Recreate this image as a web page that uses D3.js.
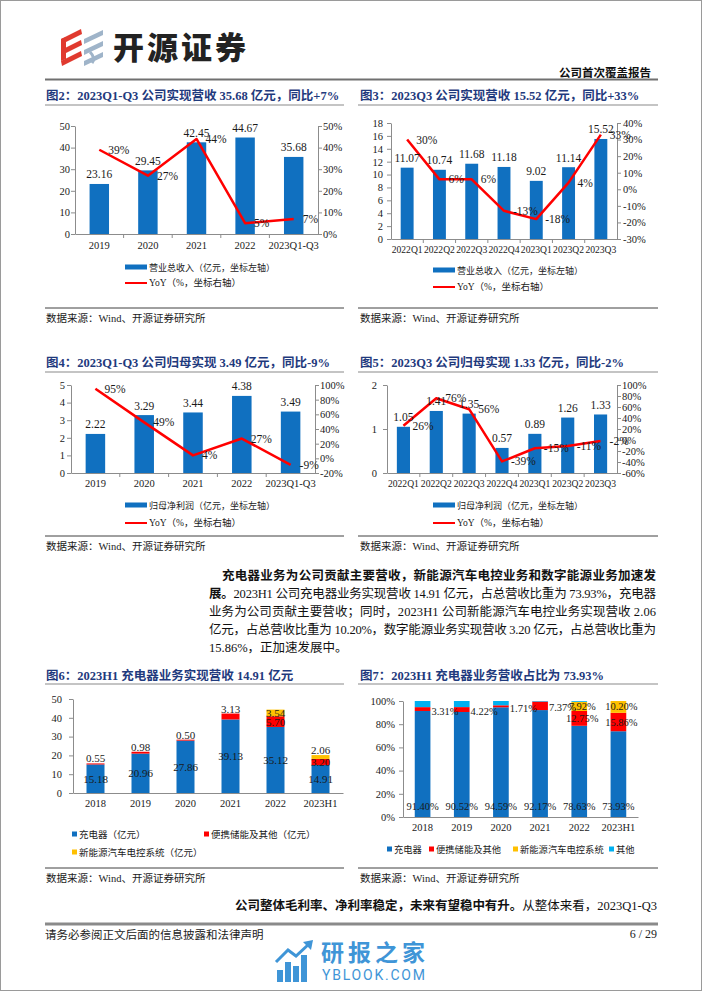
<!DOCTYPE html>
<html><head><meta charset="utf-8">
<script src="https://cdn.jsdelivr.net/npm/d3@7"></script>
<style>
body{margin:0;background:#fff}
svg{display:block}
</style></head><body>
<svg id="page" width="702" height="991"></svg>
<script>
// ---------------- DATA ----------------
const c2Cats = ["2019","2020","2021","2022","2023Q1-Q3"];
const c2Rev = [23.16,29.45,42.45,44.67,35.68];
const c2Yoy = [39,27,44,5,7];
const c2LTicks = [0,10,20,30,40,50];
const c2RTicks = [0,10,20,30,40,50];

const c3Cats = ["2022Q1","2022Q2","2022Q3","2022Q4","2023Q1","2023Q2","2023Q3"];
const c3Rev = [11.07,10.74,11.68,11.18,9.02,11.14,15.52];
const c3Yoy = [30,6,6,-13,-18,4,33];
const c3LTicks = [0,2,4,6,8,10,12,14,16,18];
const c3RTicks = [-30,-20,-10,0,10,20,30,40];

const c4Cats = ["2019","2020","2021","2022","2023Q1-Q3"];
const c4Np = [2.22,3.29,3.44,4.38,3.49];
const c4Yoy = [95,49,4,27,-9];
const c4LTicks = [0,1,2,3,4,5];
const c4RTicks = [-20,0,20,40,60,80,100];

const c5Cats = ["2022Q1","2022Q2","2022Q3","2022Q4","2023Q1","2023Q2","2023Q3"];
const c5Np = [1.05,1.41,1.35,0.57,0.89,1.26,1.33];
const c5Yoy = [26,76,56,-39,-15,-11,-2];
const c5LTicks = [0,1,2];
const c5RTicks = [-60,-40,-20,0,20,40,60,80,100];

const c6Cats = ["2018","2019","2020","2021","2022","2023H1"];
const c6Charger = [15.18,20.96,27.86,39.13,35.12,14.91];
const c6Portable = [0.55,0.98,0.50,3.13,5.70,3.20];
const c6NEV = [0,0,0,0,3.54,2.06];
const c6Ticks = [0,10,20,30,40,50];

const c7Cats = ["2018","2019","2020","2021","2022","2023H1"];
const c7Charger = [91.40,90.52,94.59,92.17,78.63,73.93];
const c7Portable = [3.31,4.22,1.71,7.37,12.75,15.86];
const c7NEV = [0,0,0,0,7.92,10.20];
const c7Other = [5.29,5.26,3.70,0.46,0.70,0.01];
const c7Ticks = [0,20,40,60,80,100];

// ---------------- STYLE ----------------
const BLUE="#1070C0", RED="#FF0000", YELLOW="#FFC000", LBLUE="#00B0F0";
const NAVY="#1F3A7D", AX="#8c8c8c", INK="#1a1a1a";
const SERIF='"Liberation Serif","Noto Sans CJK SC",serif';
const CJK='"Noto Sans CJK SC","Liberation Serif",sans-serif';
const svg=d3.select("#page");

function T(g,x,y,s,o={}){
  const t=g.append("text").attr("x",x).attr("y",y).attr("dominant-baseline","central")
    .style("font-family",o.ff||SERIF).style("font-size",(o.fs||11)+"px")
    .attr("fill",o.fill||INK).attr("text-anchor",o.anchor||"start").text(s);
  if(o.bold) t.style("font-weight","bold");
  return t;
}
function L(g,x1,y1,x2,y2,c,w){
  g.append("line").attr("x1",x1).attr("y1",y1).attr("x2",x2).attr("y2",y2).attr("stroke",c).attr("stroke-width",w);
}
function styleAxis(sel,fs){
  sel.attr("font-family",SERIF).attr("font-size",fs);
  sel.select(".domain").attr("stroke",AX);
  sel.selectAll(".tick line").attr("stroke",AX);
  sel.selectAll(".tick text").attr("fill",INK);
}

// page border
svg.append("rect").attr("x",0.5).attr("y",0.5).attr("width",701).attr("height",990).attr("fill","none").attr("stroke","#9a9a9a");

// ---------------- HEADER ----------------
(function(){
  const g=svg.append("g");
  const reds=[29,40,51];
  reds.forEach(y=>g.append("polygon").attr("points",`61,${y+10} 81,${y} 82,${y+5} 62,${y+15}`).attr("fill","#E03A2F"));
  g.append("polygon").attr("points","61,39 66,37 66,59 61,61").attr("fill","#E03A2F");
  const grays=[30,41,52];
  grays.forEach(y=>g.append("polygon").attr("points",`84,${y+9} 103,${y} 103,${y+5} 84,${y+14}`).attr("fill","#9FB4C9"));
  g.append("path").attr("d","M90,52 Q96,58 92,63").attr("stroke","#9FB4C9").attr("stroke-width",3).attr("fill","none");
  T(g,113,45,"开源证券",{ff:CJK,fs:31,bold:true,fill:"#222"}).style("font-weight",900).attr("textLength",133);
  T(g,651,72,"公司首次覆盖报告",{ff:CJK,fs:11.5,bold:true,anchor:"end",fill:"#111"});
  L(g,45,79.5,658,79.5,"#707070",2);
})();

// ---------------- TITLES / SOURCES ----------------
function title(x,y,s,lx1,lx2,ly){
  T(svg,x,y,s,{fs:12.5,bold:true,fill:NAVY});
  L(svg,lx1,ly,lx2,ly,"#8a8a8a",1.2);
}
title(46,96,"图2：2023Q1-Q3 公司实现营收 35.68 亿元，同比+7%",45,344,105);
title(360,96,"图3：2023Q3 公司实现营收 15.52 亿元，同比+33%",358,658,105);
title(46,363,"图4：2023Q1-Q3 公司归母实现 3.49 亿元，同比-9%",45,344,372);
title(360,363,"图5：2023Q3 公司归母实现 1.33 亿元，同比-2%",358,658,372);
title(46,676,"图6：2023H1 充电器业务实现营收 14.91 亿元",45,344,684);
title(360,676,"图7：2023H1 充电器业务营收占比为 73.93%",358,658,684);

function source(y){
  L(svg,45,y,344,y,"#404040",1);
  L(svg,358,y,658,y,"#404040",1);
  T(svg,46,y+10,"数据来源：Wind、开源证券研究所",{fs:10.5});
  T(svg,360,y+10,"数据来源：Wind、开源证券研究所",{fs:10.5});
}
source(308); source(536); source(868);

// ---------------- COMBO CHARTS ----------------
function combo(o){
  const g=svg.append("g");
  const x=d3.scaleBand().domain(o.cats).range([o.xl,o.xr]).paddingInner(0.6).paddingOuter(0.3);
  const yL=d3.scaleLinear().domain(o.lDom).range([o.yb,o.yt]);
  const yR=d3.scaleLinear().domain(o.rDom).range([o.yb,o.yt]);
  const cx=c=>x(c)+x.bandwidth()/2;
  const la=g.append("g").attr("transform",`translate(${o.xl},0)`)
    .call(d3.axisLeft(yL).tickValues(o.lTicks).tickSize(4).tickSizeOuter(0).tickPadding(o.lPad).tickFormat(d=>String(d)));
  styleAxis(la,o.tfs);
  const ra=g.append("g").attr("transform",`translate(${o.xr},0)`)
    .call(d3.axisRight(yR).tickValues(o.rTicks).tickSize(4).tickSizeOuter(0).tickPadding(o.rPad).tickFormat(d=>d+"%"));
  styleAxis(ra,o.tfs);
  const xa=g.append("g").attr("transform",`translate(0,${o.yb})`)
    .call(d3.axisBottom(x).tickSize(0).tickSizeOuter(0));
  styleAxis(xa,o.xfs);
  xa.selectAll(".tick text").attr("y",o.xLabY-o.yb).attr("dy","0.32em");
  // category boundary ticks
  g.selectAll(".bt").data(o.cats.slice(1)).join("line")
    .attr("x1",c=>cx(c)-x.step()/2).attr("x2",c=>cx(c)-x.step()/2)
    .attr("y1",o.yb).attr("y2",o.yb+4).attr("stroke",AX);
  // bars
  g.selectAll(".bar").data(o.cats).join("rect")
    .attr("x",c=>x(c)).attr("width",x.bandwidth())
    .attr("y",(c,i)=>yL(o.bars[i])).attr("height",(c,i)=>o.yb-yL(o.bars[i])).attr("fill",BLUE);
  // line
  const line=d3.line().x((d,i)=>cx(o.cats[i])).y(d=>yR(d));
  g.append("path").attr("d",line(o.yoy)).attr("fill","none").attr("stroke",RED).attr("stroke-width",2.5).attr("stroke-linejoin","round");
  // labels
  o.cats.forEach((c,i)=>{
    T(g,cx(c),yL(o.bars[i])-9.5,o.bars[i].toFixed(2),{fs:o.vfs,anchor:"middle"});
  });
  o.cats.forEach((c,i)=>{
    T(g,cx(c)+9,yR(o.yoy[i]),o.yoy[i]+"%",{fs:o.vfs});
  });
  // legend
  g.append("rect").attr("x",o.lgx).attr("y",o.lgy1-2.5).attr("width",22).attr("height",5).attr("fill",BLUE);
  T(g,o.lgx+24,o.lgy1,o.barName,{ff:CJK,fs:9});
  L(g,o.lgx,o.lgy2,o.lgx+22,o.lgy2,RED,2);
  T(g,o.lgx+24,o.lgy2,"YoY（%，坐标右轴）",{fs:9.5});
}

combo({cats:c2Cats,bars:c2Rev,yoy:c2Yoy,xl:75,xr:318,yt:126,yb:234,lDom:[0,50],rDom:[0,50],
  lTicks:c2LTicks,rTicks:c2RTicks,lPad:1,rPad:1,xLabY:246,tfs:10.5,xfs:10.5,vfs:11.5,
  lgx:125,lgy1:267,lgy2:283,barName:"营业总收入（亿元，坐标左轴）"});
combo({cats:c3Cats,bars:c3Rev,yoy:c3Yoy,xl:391,xr:617,yt:123,yb:239,lDom:[0,18],rDom:[-30,40],
  lTicks:c3LTicks,rTicks:c3RTicks,lPad:4,rPad:2,xLabY:250,tfs:10.5,xfs:9.6,vfs:11.5,
  lgx:433,lgy1:270,lgy2:287,barName:"营业总收入（亿元，坐标左轴）"});
combo({cats:c4Cats,bars:c4Np,yoy:c4Yoy,xl:71,xr:315,yt:385,yb:473,lDom:[0,5],rDom:[-20,100],
  lTicks:c4LTicks,rTicks:c4RTicks,lPad:2,rPad:1,xLabY:484,tfs:10.5,xfs:10.5,vfs:11.5,
  lgx:125,lgy1:505,lgy2:523,barName:"归母净利润（亿元，坐标左轴）"});
combo({cats:c5Cats,bars:c5Np,yoy:c5Yoy,xl:387,xr:617,yt:385,yb:473,lDom:[0,2],rDom:[-60,100],
  lTicks:c5LTicks,rTicks:c5RTicks,lPad:6,rPad:1,xLabY:484,tfs:10.5,xfs:9.6,vfs:11.5,
  lgx:433,lgy1:505,lgy2:523,barName:"归母净利润（亿元，坐标左轴）"});

// ---------------- PARAGRAPH ----------------
function pline(x,y,x2,parts,justify,fs){
  const t=svg.append("text").attr("x",x).attr("y",y).attr("dominant-baseline","central")
    .style("font-family",SERIF).style("font-size",(fs||12.5)+"px").attr("fill","#111");
  parts.forEach(p=>t.append("tspan").text(p[0]).style("font-weight",p[1]?"bold":"normal"));
  if(justify){
    const w=t.node().getComputedTextLength();
    const n=parts.map(p=>p[0]).join("").length;
    t.style("letter-spacing",((x2-x-w)/(n-1))+"px");
  }
}
pline(222,576,656,[["充电器业务为公司贡献主要营收，新能源汽车电控业务和数字能源业务加速发",1]],true);
pline(209,594,656,[["展。",1],["2023H1 公司充电器业务实现营收 14.91 亿元，占总营收比重为 73.93%，充电器",0]],true);
pline(209,612,656,[["业务为公司贡献主要营收；同时，2023H1 公司新能源汽车电控业务实现营收 2.06",0]],true);
pline(209,630,656,[["亿元，占总营收比重为 10.20%，数字能源业务实现营收 3.20 亿元，占总营收比重为",0]],true);
pline(209,648,656,[["15.86%，正加速发展中。",0]],false);
pline(235,906,657,[["公司整体毛利率、净利率稳定，未来有望稳中有升。",1],["从整体来看，2023Q1-Q3",0]],true);

// ---------------- CHART 6 (stacked values) ----------------
(function(){
  const g=svg.append("g");
  const xl=73,xr=343,yt=699,yb=793;
  const x=d3.scaleBand().domain(c6Cats).range([xl,xr]).paddingInner(0.6).paddingOuter(0.3);
  const y=d3.scaleLinear().domain([0,50]).range([yb,yt]);
  const rows=c6Cats.map((c,i)=>({cat:c,a:c6Charger[i],b:c6Portable[i],n:c6NEV[i]}));
  const keys=["a","b","n"], cols={a:BLUE,b:RED,n:YELLOW};
  const series=d3.stack().keys(keys)(rows);
  const la=g.append("g").attr("transform",`translate(${xl},0)`)
    .call(d3.axisLeft(y).tickValues(c6Ticks).tickSize(4).tickSizeOuter(0).tickPadding(7));
  styleAxis(la,10.5);
  const xa=g.append("g").attr("transform",`translate(0,${yb})`).call(d3.axisBottom(x).tickSize(0).tickSizeOuter(0));
  styleAxis(xa,10.5);
  xa.selectAll(".tick text").attr("y",804-yb).attr("dy","0.32em");
  series.forEach(s=>{
    g.selectAll(null).data(s).join("rect")
      .attr("x",d=>x(d.data.cat)).attr("width",x.bandwidth())
      .attr("y",d=>y(d[1])).attr("height",d=>y(d[0])-y(d[1])).attr("fill",cols[s.key]);
  });
  series.forEach((s,si)=>{
    s.forEach(d=>{
      const v=d.data[s.key]; if(!v) return;
      const isTop=keys.slice(si+1).every(k=>!d.data[k]);
      const cxx=x(d.data.cat)+x.bandwidth()/2;
      const h=y(d[0])-y(d[1]);
      const yy=(s.key!=="a"&&isTop&&h<6.5)?y(d[1])-5:(y(d[0])+y(d[1]))/2;
      T(g,cxx,yy,v.toFixed(2),{fs:11,anchor:"middle"});
    });
  });
  // legend
  const lg=[["充电器（亿元）",BLUE,72,834],["便携储能及其他（亿元）",RED,204,834],["新能源汽车电控系统（亿元）",YELLOW,72,852]];
  lg.forEach(l=>{
    g.append("rect").attr("x",l[2]).attr("y",l[3]-2.5).attr("width",5).attr("height",5).attr("fill",l[1]);
    T(g,l[2]+7,l[3],l[0],{ff:CJK,fs:9.5});
  });
})();

// ---------------- CHART 7 (stacked percent) ----------------
(function(){
  const g=svg.append("g");
  const xl=403,xr=638,yt=701,yb=817;
  const x=d3.scaleBand().domain(c7Cats).range([xl,xr]).paddingInner(0.6).paddingOuter(0.3);
  const y=d3.scaleLinear().domain([0,100]).range([yb,yt]);
  const rows=c7Cats.map((c,i)=>({cat:c,a:c7Charger[i],b:c7Portable[i],n:c7NEV[i],o:c7Other[i]}));
  const keys=["a","b","n","o"], cols={a:BLUE,b:RED,n:YELLOW,o:LBLUE};
  const series=d3.stack().keys(keys)(rows);
  const la=g.append("g").attr("transform",`translate(${xl},0)`)
    .call(d3.axisLeft(y).tickValues(c7Ticks).tickSize(4).tickSizeOuter(0).tickPadding(4).tickFormat(d=>d+"%"));
  styleAxis(la,10.5);
  const xa=g.append("g").attr("transform",`translate(0,${yb})`).call(d3.axisBottom(x).tickSize(0).tickSizeOuter(0));
  styleAxis(xa,10.5);
  xa.selectAll(".tick text").attr("y",828-yb).attr("dy","0.32em");
  series.forEach(s=>{
    g.selectAll(null).data(s).join("rect")
      .attr("x",d=>x(d.data.cat)).attr("width",x.bandwidth())
      .attr("y",d=>y(d[1])).attr("height",d=>y(d[0])-y(d[1])).attr("fill",cols[s.key]);
  });
  series.forEach(s=>{
    if(s.key==="o") return;
    s.forEach(d=>{
      const v=d.data[s.key]; if(!v) return;
      const x0=x(d.data.cat), cxx=x0+x.bandwidth()/2;
      const h=y(d[0])-y(d[1]);
      const lab=v.toFixed(2)+"%";
      if(s.key==="a") T(g,cxx,yb-11,lab,{fs:10.5,anchor:"middle"});
      else if(h<9) T(g,x0+x.bandwidth()+1,(y(d[0])+y(d[1]))/2+2,lab,{fs:10.5});
      else T(g,cxx+3,(y(d[0])+y(d[1]))/2,lab,{fs:10.5,anchor:"middle"});
    });
  });
  const lg=[["充电器",BLUE,387],["便携储能及其他",RED,429],["新能源汽车电控系统",YELLOW,513],["其他",LBLUE,609]];
  lg.forEach(l=>{
    g.append("rect").attr("x",l[2]).attr("y",849-2.5).attr("width",5).attr("height",5).attr("fill",l[1]);
    T(g,l[2]+7,849,l[0],{ff:CJK,fs:9.3});
  });
})();

// ---------------- FOOTER ----------------
(function(){
  const g=svg.append("g");
  L(g,45,924,658,924,"#8a8a8a",3);
  T(g,45,934,"请务必参阅正文后面的信息披露和法律声明",{ff:CJK,fs:11.5,fill:"#222"});
  T(g,657,934,"6 / 29",{fs:12,anchor:"end",fill:"#222"});
  // watermark
  const wc="#2B8AD3";
  const w=g.append("g").attr("opacity",0.9);
  [[277,970],[285,962],[293,966],[301,955]].forEach(b=>w.append("rect").attr("x",b[0]).attr("y",b[1]).attr("width",6).attr("height",982-b[1]).attr("fill",wc));
  w.append("polyline").attr("points","276,962 288,950 296,956 309,944").attr("fill","none").attr("stroke",wc).attr("stroke-width",3);
  w.append("polygon").attr("points","303,942 313,940 311,950").attr("fill",wc);
  T(w,321,951,"研报之家",{ff:CJK,fs:23,bold:true,fill:wc}).attr("textLength",104);
  T(w,322,975,"YBLOOK.COM",{ff:'"Roboto","DejaVu Sans",sans-serif',fs:14,fill:wc}).attr("textLength",103);
})();
</script>
</body></html>
